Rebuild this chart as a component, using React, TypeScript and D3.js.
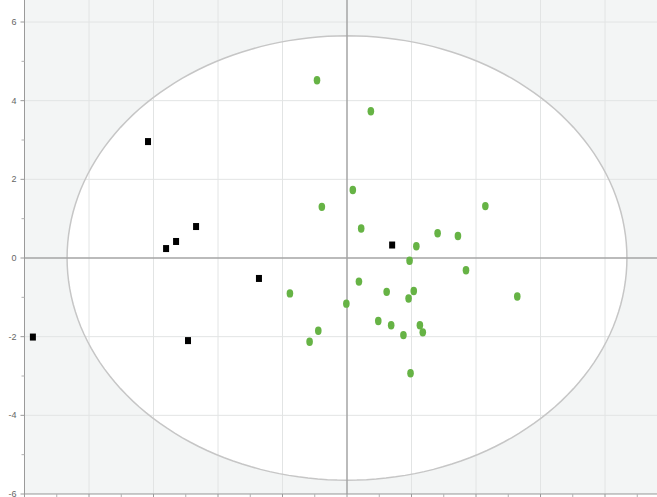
import React from "react";
import * as d3 from "d3";

const blackX = [-9.74, -6.17, -5.61, -5.3, -4.68, -4.93, -2.73, 1.4];
const blackY = [-2.01, 2.96, 0.24, 0.42, 0.8, -2.1, -0.52, 0.33];

const greenX = [
  -0.93, 0.74, 0.18, -0.78, 0.44, 2.81, 3.44, 4.29, 2.15, 1.94, 3.69, -1.77, 0.37,
  1.23, 2.07, 1.91, 5.28, -0.02, 0.97, 1.37, 1.75, 2.26, 2.35, -0.89, -1.16, 1.97,
];
const greenY = [
  4.52, 3.73, 1.73, 1.3, 0.75, 0.63, 0.56, 1.32, 0.3, -0.07, -0.31, -0.9, -0.6,
  -0.86, -0.84, -1.03, -0.98, -1.16, -1.6, -1.71, -1.96, -1.71, -1.89, -1.85, -2.13, -2.93,
];

const yTicks = [6, 4, 2, 0, -2, -4, -6];
const xGrid = [-10, -8, -6, -4, -2, 0, 2, 4, 6, 8, 10];
const ellipseRadii = [8.68, 5.65];

export default function App() {
  const W = 657;
  const H = 497;
  const x = d3.scaleLinear().domain([-10, 10]).range([24.5, 669.5]);
  const y = d3.scaleLinear().domain([-6, 6]).range([494, 22]);
  const left = x(-10);
  const bottom = y(-6);

  const ell = d3.range(0, 361, 2).map((a) => {
    const t = (a * Math.PI) / 180;
    return [x(ellipseRadii[0] * Math.cos(t)), y(ellipseRadii[1] * Math.sin(t))] as [number, number];
  });
  const ellPath = d3.line()(ell) + "Z";

  const minorY = d3.range(-5, 6, 2);
  const minorX = d3.range(-9, 10, 2);

  return (
    <svg
      width={W}
      height={H}
      style={{ position: "fixed", top: 0, left: 0, background: "#fff" }}
      fontFamily="Liberation Sans, Arial, sans-serif"
    >
      <defs>
        <clipPath id="plot">
          <rect x={left} y={0} width={W - left} height={bottom} />
        </clipPath>
      </defs>
      <rect x={left} y={0} width={W - left} height={bottom} fill="#f3f5f5" />
      <g clipPath="url(#plot)">
        <path d={ellPath} fill="#ffffff" stroke="none" />
        {yTicks
          .filter((v) => v !== 0)
          .map((v) => (
            <line key={"gy" + v} x1={left} x2={W} y1={y(v)} y2={y(v)} stroke="#e2e4e4" strokeWidth={1} />
          ))}
        {xGrid
          .filter((v) => v !== 0)
          .map((v) => (
            <line key={"gx" + v} x1={x(v)} x2={x(v)} y1={0} y2={bottom} stroke="#e2e4e4" strokeWidth={1} />
          ))}
        <path d={ellPath} fill="none" stroke="#c6c6c6" strokeWidth={1.5} />
        <line x1={left} x2={W} y1={y(0)} y2={y(0)} stroke="#a4a4a4" strokeWidth={1.5} />
        <line x1={x(0)} x2={x(0)} y1={0} y2={bottom} stroke="#a4a4a4" strokeWidth={1.5} />
        {greenX.map((v, i) => (
          <ellipse key={"g" + i} cx={x(v)} cy={y(greenY[i])} rx={3.3} ry={4.2} fill="#66b345" />
        ))}
        {blackX.map((v, i) => (
          <rect key={"b" + i} x={x(v) - 3} y={y(blackY[i]) - 3.5} width={6} height={7} fill="#000" />
        ))}
      </g>
      {/* y axis */}
      <line x1={left} x2={left} y1={0} y2={bottom} stroke="#9a9a9a" strokeWidth={1} />
      {yTicks.map((v) => (
        <g key={"yt" + v}>
          <line x1={left - 4} x2={left} y1={y(v)} y2={y(v)} stroke="#9a9a9a" />
          <text x={left - 8} y={y(v)} dy="0.35em" textAnchor="end" fontSize={9} fill="#666">
            {v}
          </text>
        </g>
      ))}
      {minorY.map((v) => (
        <line key={"my" + v} x1={left - 3} x2={left} y1={y(v)} y2={y(v)} stroke="#b0b0b0" />
      ))}
      {/* x axis */}
      <line x1={left} x2={W} y1={bottom} y2={bottom} stroke="#9a9a9a" strokeWidth={1} />
      {xGrid.map((v) => (
        <line key={"xt" + v} x1={x(v)} x2={x(v)} y1={bottom} y2={bottom + 4} stroke="#9a9a9a" />
      ))}
      {minorX.map((v) => (
        <line key={"mx" + v} x1={x(v)} x2={x(v)} y1={bottom} y2={bottom + 3} stroke="#b0b0b0" />
      ))}
    </svg>
  );
}
